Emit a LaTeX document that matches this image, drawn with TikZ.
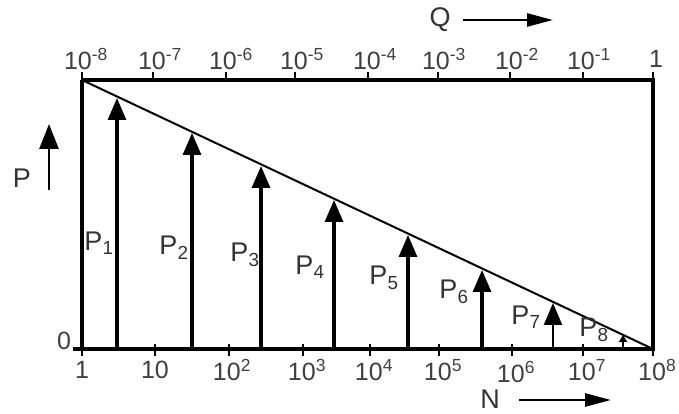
\documentclass[tikz,border=0pt]{standalone}
\usepackage{fontspec}
\setmainfont{Liberation Sans}
\usetikzlibrary{arrows.meta}
\begin{document}
\begin{tikzpicture}[x=1pt,y=1pt,
  frame/.style={line width=3.2pt},
  tick/.style={line width=2.6pt},
  diag/.style={line width=2pt},
  parrow/.style={line width=3.2pt,-{Triangle[width=18pt,length=22pt]}},
  axarrow/.style={line width=2.8pt,-{Triangle[width=13pt,length=26pt]}},
  lbl/.style={inner sep=0pt,font=\fontsize{25}{25}\selectfont,text=black!75},
  plbl/.style={inner sep=0pt,font=\fontsize{27}{27}\selectfont,text=black!80}]
\useasboundingbox (0,0) rectangle (679,414);
% frame corners
\coordinate (TL) at (82,334);
\coordinate (TR) at (655,334);
\coordinate (BL) at (82,65);
\coordinate (BR) at (653,65);
\coordinate (BL0) at (73,65);
\draw[frame] (BL0) -- (BR) -- (653,334) -- (TR);
\draw[frame] (TL) -- (TR);
\draw[frame] (TL) -- (BL);
\draw[diag] (TL) -- (BR);
% top ticks
\foreach \x [count=\i] in {82,153,226,295,368,438,510,583,653}{
  \coordinate (tt\i) at (\x,334);
  \draw[tick] (tt\i) -- ++(0,8);
}
\node[lbl] (q1) at (86,355) {10\textsuperscript{-8}};
\node[lbl] (q2) at (160,355) {10\textsuperscript{-7}};
\node[lbl] (q3) at (231,355) {10\textsuperscript{-6}};
\node[lbl] (q4) at (302,355) {10\textsuperscript{-5}};
\node[lbl] (q5) at (375,355) {10\textsuperscript{-4}};
\node[lbl] (q6) at (444,355) {10\textsuperscript{-3}};
\node[lbl] (q7) at (517,355) {10\textsuperscript{-2}};
\node[lbl] (q8) at (589,355) {10\textsuperscript{-1}};
\node[lbl] (q9) at (656,355) {1};
% bottom ticks
\foreach \x [count=\i] in {82,155,229,303,370,439,512,583,653}{
  \coordinate (bt\i) at (\x,65);
  \draw[tick] (\x,70) -- (\x,58);
}
\node[lbl] (n1) at (82,44) {1};
\node[lbl] (n2) at (155,44) {10};
\node[lbl] (n3) at (232,44) {10\textsuperscript{2}};
\node[lbl] (n4) at (307,44) {10\textsuperscript{3}};
\node[lbl] (n5) at (374,44) {10\textsuperscript{4}};
\node[lbl] (n6) at (443,44) {10\textsuperscript{5}};
\node[lbl] (n7) at (516,42) {10\textsuperscript{6}};
\node[lbl] (n8) at (587,44) {10\textsuperscript{7}};
\node[lbl,anchor=west] (n9) at (638,44) {10\textsuperscript{8}};
\node[lbl] (zero) at (64,73) {0};
% P arrows
\foreach \x/\y/\w [count=\i] in {117/316/3.2,192/281/3.2,261/248/3.2,334/214/3.2,408/179/3.2,482/144/3.2,553/111/2.4}{
  \coordinate (pb\i) at (\x,65);
  \coordinate (pt\i) at (\x,\y);
  \draw[parrow,line width=\w pt] (pb\i) -- (pt\i);
}
\coordinate (pb8) at (623,65);
\coordinate (pt8) at (623,79);
\draw[line width=2pt,-{Triangle[width=8pt,length=7pt]}] (pb8) -- (pt8);
% P labels
\node[plbl] (P1) at (99,171) {P\textsubscript{1}};
\node[plbl] (P2) at (174,166) {P\textsubscript{2}};
\node[plbl] (P3) at (245,159) {P\textsubscript{3}};
\node[plbl] (P4) at (310,147) {P\textsubscript{4}};
\node[plbl] (P5) at (384,136) {P\textsubscript{5}};
\node[plbl] (P6) at (454,122) {P\textsubscript{6}};
\node[plbl] (P7) at (526,97) {P\textsubscript{7}};
\node[plbl] (P8) at (594,84) {P\textsubscript{8}};
% axis names
\node[plbl] (Q) at (440,394) {Q};
\coordinate (qa) at (463,394);
\coordinate (qb) at (553,394);
\draw[axarrow] (qa) -- (qb);
\node[plbl] (N) at (490,15) {N};
\coordinate (na) at (519,14);
\coordinate (nb) at (611,14);
\draw[axarrow] (na) -- (nb);
\node[plbl] (Pax) at (22,236) {P};
\coordinate (pa) at (49,224);
\coordinate (pc) at (49,290);
\draw[line width=2.8pt,-{Triangle[width=19pt,length=25pt]}] (pa) -- (pc);
\end{tikzpicture}
\end{document}
